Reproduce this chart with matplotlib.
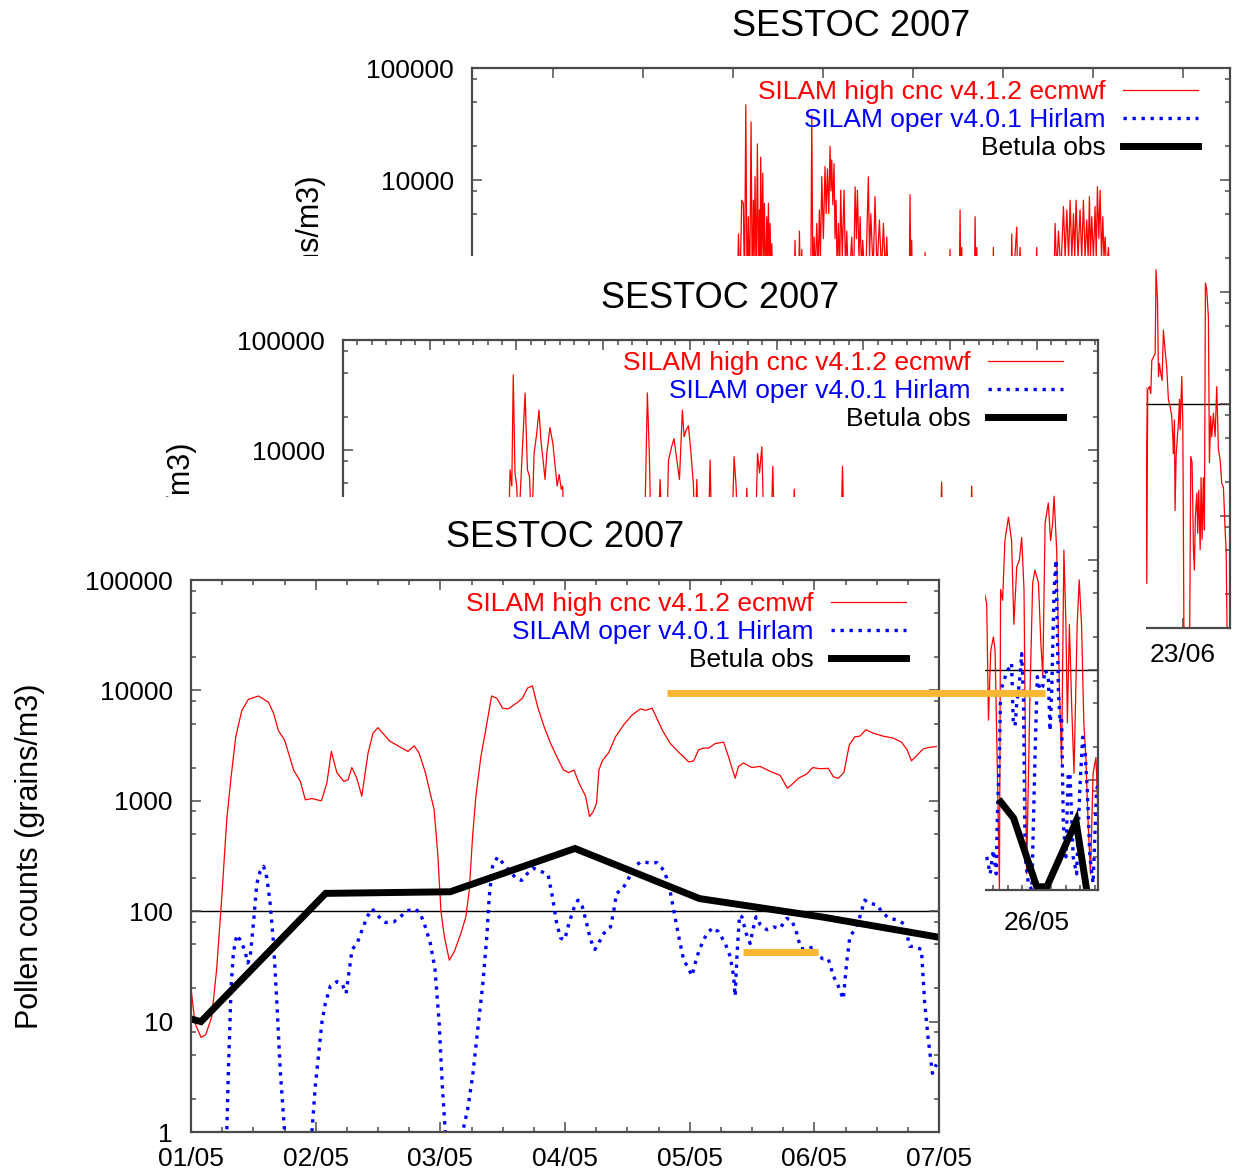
import datetime
import matplotlib
matplotlib.use('Agg')
import matplotlib.pyplot as plt
from matplotlib.patches import Rectangle
from matplotlib.lines import Line2D
from matplotlib.transforms import Bbox, TransformedBbox
from matplotlib.ticker import FixedLocator, LogLocator, MultipleLocator, NullFormatter, NullLocator

plt.rcParams['font.family'] = ['Liberation Sans', 'DejaVu Sans']

W, H = 1236, 1173
START = datetime.date(2007, 5, 1)   # x values are days since 01/05/2007

LABEL_RED = 'SILAM high cnc v4.1.2 ecmwf'
LABEL_BLUE = 'SILAM oper v4.0.1 Hirlam'
LABEL_OBS = 'Betula obs'
TITLE = 'SESTOC 2007'
YLABEL = 'Pollen counts (grains/m3)'
ytick_values = [1, 10, 100, 1000, 10000, 100000]
ytick_labels = ['1', '10', '100', '1000', '10000', '100000']

# tick days per panel; only the labels that are not covered by a sheet in front are written
front_xticks = [0, 1, 2, 3, 4, 5, 6]
mid_xticks = [1, 4, 7, 10, 13, 16, 19, 22, 25]
back_xticks = [4, 11, 18, 25, 32, 39, 46, 53]
mid_visible_xlabels = ['26/05']
back_visible_xlabels = ['23/06']
covered_ylabels = ['100000', '10000']   # the only y labels left uncovered on the two back panels

# ---------------- front panel: 01/05 - 07/05 ----------------
front_red_day = [0.0, 0.032, 0.08, 0.118, 0.166, 0.206, 0.247, 0.287, 0.322, 0.359, 0.408, 0.461, 0.542,
                 0.622, 0.662, 0.702, 0.751, 0.823, 0.877, 0.917, 0.97, 1.01, 1.046, 1.09, 1.126, 1.17,
                 1.225, 1.26, 1.29, 1.33, 1.37, 1.42, 1.46, 1.50, 1.59, 1.67, 1.74, 1.79, 1.83, 1.88,
                 1.95, 1.979, 2.005, 2.032, 2.072, 2.112, 2.165, 2.205, 2.232, 2.259, 2.285, 2.325,
                 2.373, 2.411, 2.453, 2.499, 2.544, 2.613, 2.659, 2.699, 2.739, 2.779, 2.832, 2.885,
                 2.939, 2.987, 3.032, 3.072, 3.112, 3.165, 3.197, 3.227, 3.253, 3.272, 3.299, 3.352,
                 3.405, 3.472, 3.539, 3.605, 3.645, 3.699, 3.779, 3.845, 3.912, 3.952, 3.992, 4.032,
                 4.072, 4.112, 4.152, 4.205, 4.272, 4.312, 4.365, 4.392, 4.432, 4.499, 4.565, 4.645,
                 4.725, 4.784, 4.819, 4.872, 4.939, 4.987, 5.045, 5.112, 5.152, 5.192, 5.237, 5.28,
                 5.325, 5.365, 5.413, 5.472, 5.552, 5.632, 5.699, 5.744, 5.779, 5.819, 5.872, 5.925, 5.979]
front_red = [20, 9.7, 7.2, 7.6, 11, 30, 135, 680, 1660, 3800, 6600, 8300, 8900,
             7800, 6200, 4300, 3550, 1900, 1500, 1020, 1050, 1020, 1000, 1450, 2800, 1800,
             1500, 1550, 2000, 1600, 1100, 2700, 4100, 4600, 3500, 3100, 2800, 3150, 2700, 1800,
             830, 335, 100, 59, 36, 43, 63, 89, 155, 480, 1100, 2500,
             5000, 8900, 8500, 6900, 6800, 7700, 8500, 10500, 11000, 7200, 4700, 3300,
             2450, 1900, 1800, 1900, 1450, 1100, 720, 800, 950, 1900, 2300, 2750,
             3800, 4900, 6000, 6800, 6600, 6900, 4400, 3300, 2750, 2500, 2250, 2300,
             2900, 3000, 3000, 3300, 3400, 2500, 1600, 2050, 2200, 2000, 2050, 1850,
             1700, 1300, 1400, 1600, 1750, 2000, 1950, 1970, 1650, 1600, 1800, 3200,
             3800, 3850, 4400, 4100, 3850, 3700, 3400, 2900, 2300, 2550, 2950, 3050, 3100]

front_blue_day = [0.27, 0.287, 0.30, 0.322, 0.34, 0.367, 0.394, 0.429, 0.456, 0.475, 0.501, 0.528, 0.555,
                  0.582, 0.609, 0.635, 0.662, 0.689, 0.716, 0.751, 0.80, 0.93, 0.97, 0.997, 1.024, 1.051,
                  1.078, 1.118, 1.17, 1.212, 1.244, 1.271, 1.292, 1.332, 1.373, 1.413, 1.453, 1.507,
                  1.56, 1.627, 1.694, 1.735, 1.80, 1.84, 1.88, 1.92, 1.957, 1.99, 2.016, 2.04, 2.08,
                  2.14, 2.179, 2.219, 2.259, 2.299, 2.339, 2.373, 2.392, 2.419, 2.459, 2.499, 2.552,
                  2.605, 2.651, 2.699, 2.747, 2.805, 2.864, 2.899, 2.933, 2.965, 2.997, 3.032, 3.072,
                  3.104, 3.139, 3.173, 3.205, 3.24, 3.272, 3.312, 3.365, 3.392, 3.413, 3.459, 3.499,
                  3.547, 3.605, 3.672, 3.739, 3.792, 3.832, 3.872, 3.912, 3.952, 3.979, 4.019, 4.059,
                  4.099, 4.139, 4.187, 4.232, 4.285, 4.325, 4.352, 4.365, 4.379, 4.40, 4.419, 4.453,
                  4.485, 4.507, 4.533, 4.565, 4.619, 4.672, 4.725, 4.779, 4.819, 4.859, 4.891, 4.939,
                  4.997, 5.032, 5.072, 5.112, 5.152, 5.192, 5.232, 5.259, 5.285, 5.325, 5.365, 5.405,
                  5.445, 5.499, 5.552, 5.605, 5.672, 5.725, 5.765, 5.805, 5.859, 5.885, 5.912, 5.947, 5.979]
front_blue = [0.5, 1.0, 3.6, 21, 42, 61, 55, 45, 34, 39, 78, 178, 230,
              255, 200, 117, 51, 14.7, 3.6, 1.0, 0.5, 0.5, 1.0, 2.6, 5.1, 10,
              14.7, 21, 23, 22, 18, 30, 45, 51, 68, 89, 105, 89,
              79, 80, 92, 101, 105, 95, 72, 51, 30, 10, 2.6, 1.0, 0.5,
              0.5, 1.0, 1.6, 3.2, 8.3, 21, 59, 135, 255, 310, 275, 235,
              200, 190, 220, 245, 230, 215, 135, 78, 57, 55, 78, 107,
              126, 110, 78, 55, 45, 52, 63, 72, 102, 145, 158, 186,
              245, 280, 275, 275, 235, 178, 102, 59, 36, 32, 26, 39,
              51, 63, 71, 65, 51, 39, 26, 17, 39, 92, 89, 63,
              51, 68, 89, 76, 68, 72, 70, 86, 83, 63, 46, 45,
              48, 39, 37, 37, 26, 21, 16, 34, 59, 68, 89, 126,
              117, 115, 95, 86, 83, 76, 48, 48, 45, 14.7, 7.2, 3.4, 4.1]

front_obs_day = [-0.92, 0.08, 1.08, 2.08, 3.08, 4.08, 5.08, 6.08]
front_obs = [20, 10, 145, 150, 370, 130, 88, 56]

# ---------------- middle panel: 02/05 - 27/05 ----------------
mid_red_day = [6.72, 6.78, 6.84, 6.89, 6.95, 7.01, 7.07, 7.30, 7.38, 7.45, 7.53, 7.61, 7.70, 7.78, 7.85,
               7.91, 7.99, 8.05, 8.16, 8.26, 8.34, 8.41, 8.48, 8.55, 8.60, 8.65,
               11.43, 11.53, 11.60, 11.66, 11.90, 11.97, 12.05, 12.20, 12.26, 12.37, 12.45, 12.55,
               12.64, 12.74, 12.80, 12.87, 12.95, 13.03, 13.12, 13.18, 13.24, 13.30, 13.64, 13.70,
               13.76, 14.45, 14.53, 14.60, 14.66, 14.91, 14.97, 15.03, 15.27, 15.34, 15.41, 15.49,
               15.57, 15.80, 15.87, 15.93, 16.55, 16.61, 16.67, 18.22, 18.28, 18.34, 21.66, 21.71,
               21.76, 22.70, 22.75, 22.80,
               23.27, 23.33, 23.41, 23.50, 23.56, 23.64, 23.71, 23.75, 23.82, 23.90, 24.02, 24.13,
               24.21, 24.31, 24.40, 24.48, 24.56, 24.65, 24.77, 24.86, 24.94, 25.06, 25.14, 25.21,
               25.29, 25.40, 25.48, 25.55, 25.60, 25.69, 25.78, 25.86, 25.94, 26.01, 26.06, 26.13,
               26.21, 26.29, 26.40, 26.47, 26.55, 26.63, 26.70, 26.78, 26.86, 26.95, 27.05, 27.13]
mid_red = [1500, 6600, 4700, 48000, 6200, 4700, 1800, 33000, 6600, 5800, 1800, 9300, 14000, 23000, 12000,
           8700, 5400, 9300, 16000, 11500, 7100, 4700, 6000, 4400, 4700, 1500,
           1500, 33000, 8700, 1500, 1500, 5400, 1500, 1500, 8100, 10700, 12700, 8100,
           5400, 23000, 13200, 15100, 16600, 10000, 5000, 1500, 5400, 1500, 1500, 8100,
           1500, 1500, 8700, 4700, 1500, 1500, 4500, 1500, 1500, 9300, 6200, 10700,
           1500, 1500, 7100, 1500, 1500, 4400, 1500, 1500, 7100, 1500, 1500, 5100,
           1500, 1500, 4700, 1500,
           400, 35, 150, 200, 150, 11.5, 1.0, 540, 430, 1500, 2450, 1500,
           260, 870, 1000, 1600, 540, 1.4, 66, 620, 810, 620, 185, 87,
           2150, 3300, 1500, 2150, 3800, 1230, 76, 14, 1230, 260, 33, 260,
           47, 11.5, 260, 660, 260, 33, 16, 4.0, 1.4, 11.5, 16, 4.0]

mid_blue_day = [23.27, 23.39, 23.50, 23.60, 23.64, 23.71, 23.75, 23.85, 23.96, 24.08, 24.13, 24.19, 24.25,
                24.31, 24.40, 24.48, 24.54, 24.60, 24.71, 24.83, 24.94, 25.02, 25.11, 25.21, 25.29,
                25.40, 25.46, 25.52, 25.60, 25.67, 25.75, 25.81, 25.86, 25.92, 26.01, 26.09, 26.15,
                26.26, 26.38, 26.49, 26.59, 26.67, 26.75, 26.84, 26.95, 27.07, 27.13]
mid_blue = [2.0, 1.4, 2.3, 1.4, 5.0, 16, 66, 76, 97, 107, 115, 33, 31,
            50, 76, 141, 58, 2.0, 1.15, 1.0, 16, 87, 66, 71, 100,
            87, 28, 66, 540, 1000, 66, 33, 38, 4.0, 2.0, 11.5, 11.5,
            2.0, 1.4, 8.1, 24.5, 18.6, 8.1, 2.0, 1.15, 8.1, 9.3]

mid_obs_day = [23.76, 24.2, 25.0, 25.35, 26.36, 26.73]
mid_obs = [6.3, 4.5, 1.07, 1.07, 4.2, 1.0]

# ---------------- back panel: end of April - end of June ----------------
back_red_day = [18.35, 18.43, 18.55, 18.68, 18.81, 18.90, 19.0, 19.10, 19.20, 19.30, 19.41, 19.50, 19.59,
                19.65, 19.72, 19.80, 19.90, 19.98, 20.06, 20.11, 20.16, 20.24, 20.32, 20.38, 20.45,
                20.55, 20.63, 20.70, 20.76, 20.83, 20.89, 20.95, 21.02, 21.10,
                22.75, 22.83, 22.90, 23.10, 23.17, 23.25, 23.30, 23.35, 23.42, 24.05, 24.13, 24.22,
                24.31, 24.40, 24.52, 24.62, 24.72, 24.80, 24.91, 25.03, 25.16, 25.25, 25.35, 25.45,
                25.55, 25.62, 25.68, 25.77, 25.86, 25.94, 26.02, 26.10, 26.20, 26.30, 26.38, 26.50,
                26.64, 26.75, 26.85, 27.0, 27.24, 27.37, 27.50, 27.60, 27.68, 27.80, 27.89, 28.0,
                28.09, 28.3, 28.53, 28.62, 28.72, 28.90, 29.05, 29.20, 29.39, 29.55, 29.70, 29.85,
                29.96, 30.1,
                31.70, 31.77, 31.84, 31.90, 31.96, 32.88, 32.94, 33.0, 34.82, 34.88, 34.94, 35.60,
                35.66, 35.72, 35.79, 35.85, 36.77, 36.83, 36.89, 36.96, 37.02, 38.19, 38.25, 38.31,
                39.62, 39.68, 39.75, 40.07, 40.15, 40.33, 40.40, 41.56, 41.62, 41.68,
                42.95, 43.05, 43.18, 43.31, 43.50, 43.70, 43.83, 43.96, 44.10, 44.22, 44.35, 44.48,
                44.58, 44.68, 44.83, 44.99, 45.12, 45.25, 45.38, 45.51, 45.62, 45.72, 45.80, 45.90,
                46.03, 46.16, 46.25, 46.34, 46.45, 46.55, 46.66, 46.76, 46.85, 46.94, 47.05, 47.20,
                47.30, 50.10,
                50.18, 50.25, 50.39, 50.49, 50.57, 50.70, 50.83, 50.90, 51.01, 51.09, 51.16, 51.27,
                51.37, 51.47, 51.60, 51.73, 51.86, 51.99, 52.12, 52.20, 52.25, 52.33, 52.38, 52.46,
                52.56, 52.64, 52.72, 52.77, 52.85, 52.90, 52.98, 53.08, 53.50, 53.60, 53.70, 53.81,
                53.88, 53.96, 54.07, 54.14, 54.22, 54.33, 54.40, 54.48, 54.58, 54.66, 54.74, 54.84,
                54.97, 55.05, 55.15, 55.23, 55.36, 55.49, 55.62, 55.75, 55.88, 56.01, 56.14, 56.27,
                56.35, 56.45]
back_red = [1000, 3300, 1000, 6600, 6200, 1000, 47000, 1000, 4700, 1000, 33000, 1000, 6600,
            2000, 10700, 1000, 21000, 1500, 5400, 2000, 16000, 2000, 11500, 1500, 6200,
            1000, 4700, 2000, 6200, 1500, 4100, 1500, 2700, 1000,
            1000, 2900, 1000, 1000, 3500, 1000, 1000, 2400, 1000, 1000, 38000, 1000,
            3100, 1500, 4100, 1500, 5400, 2000, 10700, 3000, 13200, 5000, 12600, 5000,
            20000, 8000, 15100, 6000, 14000, 3000, 6600, 1500, 4100, 1500, 8100, 2000,
            8100, 1500, 3500, 1000, 3100, 1000, 8700, 3000, 8100, 2000, 4700, 1500,
            2900, 1000, 10700, 2000, 5000, 1500, 7100, 1500, 4400, 1500, 4100, 1500,
            3100, 1000,
            1000, 7400, 1000, 2900, 1000, 1000, 2250, 1000, 1000, 2400, 1000, 1000,
            5400, 1000, 2500, 1000, 1000, 4700, 1000, 2500, 1000, 1000, 2500, 1000,
            1000, 3300, 1000, 3800, 1000, 2500, 1000, 1000, 2500, 1000,
            1000, 4100, 1500, 3500, 1500, 5800, 2000, 5400, 2000, 6600, 2000, 5000,
            2000, 6600, 2000, 5400, 2000, 6600, 2000, 4400, 2000, 7100, 2000, 4700,
            2000, 5800, 2000, 8700, 3000, 8100, 2000, 4700, 2000, 3100, 1500, 2500,
            1000, 140,
            2.5, 135, 143, 124, 245, 263, 282, 1580, 850, 176, 229, 186,
            162, 457, 302, 214, 110, 95, 78, 51, 36, 72, 11.2, 34,
            51, 68, 110, 59, 117, 176, 68, 0.5, 0.5, 34, 30, 5.0,
            3.3, 10, 16, 7.0, 17, 5.0, 22, 6.2, 22, 7.5, 1200, 1050,
            600, 30, 78, 51, 83, 51, 143, 39, 32, 19.5, 18, 7.5,
            5.0, 0.5]

# orange highlight marks (drawn in front panel data coordinates)
hl_long_day = [3.816, 6.848]
hl_long_level = 9470
hl_short_day = [4.424, 5.032]
hl_short_level = 42.7

AXIS_GREY = '#4a4a4a'


def day_label(d):
  return (START + datetime.timedelta(days=int(round(d)))).strftime('%d/%m')


def make_panel(box, z, xlim, major_days, minor_step, legend_px, shown_x=None, shown_y=None, clip_y=None):
  left, top, right, bottom = box
  ax = fig.add_axes([left / W, 1 - bottom / H, (right - left) / W, (bottom - top) / H])
  ax.set_zorder(z)
  ax.set_yscale('log')
  ax.set_ylim(1, 100000)
  ax.set_xlim(*xlim)
  ax.axhline(100, color='black', lw=1.0, zorder=1)
  ax.yaxis.set_major_locator(FixedLocator(ytick_values))
  ax.set_yticklabels([l if shown_y is None or l in shown_y else '' for l in ytick_labels])
  ax.yaxis.set_minor_locator(LogLocator(base=10, subs=[2, 5, 8]))
  ax.yaxis.set_minor_formatter(NullFormatter())
  ax.xaxis.set_major_locator(FixedLocator(major_days))
  xl = [day_label(d) for d in major_days]
  ax.set_xticklabels([l if shown_x is None or l in shown_x else '' for l in xl])
  if minor_step:
    ax.xaxis.set_minor_locator(MultipleLocator(minor_step))
  else:
    ax.xaxis.set_minor_locator(NullLocator())
  ax.tick_params(which='both', direction='in', top=True, right=True, color=AXIS_GREY, width=1.1)
  ax.tick_params(which='major', length=7, labelsize=19)
  ax.tick_params(which='minor', length=3.5)
  ax.tick_params(axis='y', pad=13)
  ax.tick_params(axis='x', pad=11)
  for s in ax.spines.values():
    s.set_color(AXIS_GREY)
    s.set_linewidth(1.6)
  w_ax = right - left
  h_ax = bottom - top
  ax.text(0.5, 1 + 42 / h_ax, TITLE, transform=ax.transAxes, ha='center', va='center', fontsize=26)
  yl = ax.text(-161 / w_ax, 0.5, YLABEL, transform=ax.transAxes, rotation=90, ha='center', va='center',
               fontsize=22)
  if clip_y is not None:
    # only the part above the next sheet is seen
    yl.set_clip_box(TransformedBbox(Bbox([[0, 1 - clip_y / H], [1, 1]]), fig.transFigure))
    yl.set_clip_on(True)
  ax._legend_px = legend_px
  ax._box = box
  return ax


def add_legend(ax):
  left, top, right, bottom = ax._box
  line_end, leg_top = ax._legend_px
  ax.legend(loc='upper right', bbox_to_anchor=((line_end - left) / (right - left), (bottom - leg_top) / (bottom - top)),
            markerfirst=False, frameon=False, fontsize=19, handlelength=2.85, handletextpad=0.65,
            labelspacing=0.15, borderpad=0, borderaxespad=0, labelcolor='linecolor')


def add_sheet(x0, y0, x1, y1, z):
  fig.patches.append(Rectangle((x0 / W, 1 - y1 / H), (x1 - x0) / W, (y1 - y0) / H, transform=fig.transFigure,
                               facecolor='white', edgecolor='none', zorder=z))


fig = plt.figure(figsize=(W / 100, H / 100), dpi=100)

red_kw = dict(color='#ff0000', lw=0.9)
blue_kw = dict(color='#0000ff', lw=2.4, linestyle=(0, (1, 1.7)))
obs_kw = dict(color='black', lw=5.0, solid_joinstyle='miter')

# back panel
back = make_panel((472, 68, 1230, 628), 1, (-2.29, 56.65), back_xticks, None, (1198, 80),
                  shown_x=back_visible_xlabels, shown_y=covered_ylabels, clip_y=256)
back.plot(back_red_day, back_red, label=LABEL_RED, **red_kw)
back.plot([], [], label=LABEL_BLUE, **blue_kw)
back.plot([], [], label=LABEL_OBS, **obs_kw)
add_legend(back)

# middle panel
add_sheet(150, 256, 1146, 945, 2)
mid = make_panel((343, 340, 1098, 890), 3, (1.0, 27.12), mid_xticks, 0.5, (1063, 351),
                 shown_x=mid_visible_xlabels, shown_y=covered_ylabels, clip_y=497)
mid.plot(mid_red_day, mid_red, label=LABEL_RED, **red_kw)
mid.plot(mid_blue_day, mid_blue, label=LABEL_BLUE, **blue_kw)
mid.plot(mid_obs_day, mid_obs, label=LABEL_OBS, **obs_kw)
add_legend(mid)
mid.tick_params(axis='x', pad=15)

# front panel
add_sheet(0, 497, 985, H, 4)
front = make_panel((191, 580, 939, 1132), 5, (0, 6.0), front_xticks, 0.25, (906, 592))
front.plot(front_red_day, front_red, label=LABEL_RED, **red_kw)
front.plot(front_blue_day, front_blue, label=LABEL_BLUE, **blue_kw)
front.plot(front_obs_day, front_obs, label=LABEL_OBS, **obs_kw)
add_legend(front)

# orange marks on top of everything
for days, level in [(hl_long_day, hl_long_level), (hl_short_day, hl_short_level)]:
  mark = Line2D(days, [level, level], color='#f9b733', lw=5.0, solid_capstyle='butt',
                transform=front.transData, clip_on=False, zorder=10)
  fig.add_artist(mark)

fig.savefig('out.png', dpi=100, facecolor='white')
